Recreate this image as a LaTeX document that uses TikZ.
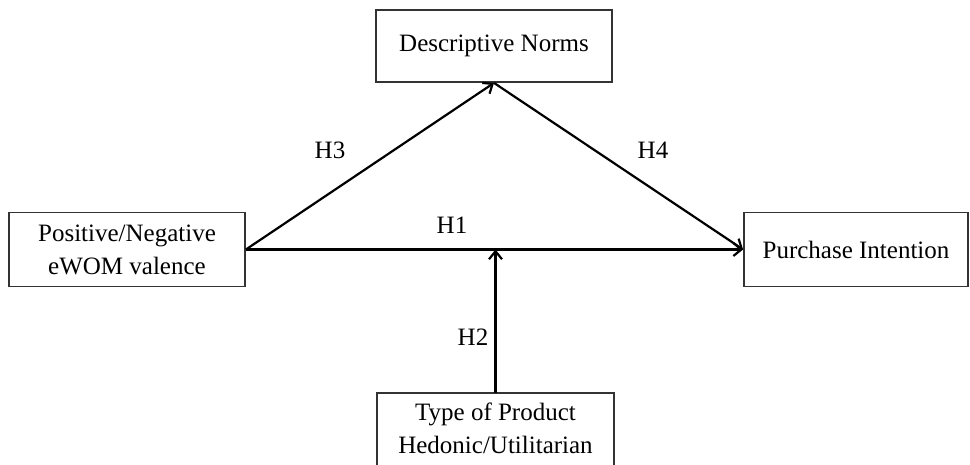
\documentclass[tikz,border=0pt]{standalone}
\usepackage{fontspec}
\setmainfont{Liberation Serif}
\usetikzlibrary{arrows.meta}
\begin{document}
\begin{tikzpicture}[x=1pt,y=-1pt,
  box/.style={draw=black!80, line width=1.8pt, inner sep=0pt, align=center, font=\fontsize{25}{33}\selectfont},
  openbox/.style={box, draw=none},
  boxline/.style={draw=black!80, line width=1.8pt},
  link/.style={line width=2.2pt, -{Straight Barb[length=8pt,width=13pt,line width=2.2pt]}},
  lab/.style={inner sep=0pt, font=\fontsize{25}{30}\selectfont}]
\useasboundingbox (0,0) rectangle (970,465);
\node[box, minimum width=236pt, minimum height=72pt] (dn) at (494,46) {Descriptive Norms};
\node[box, minimum width=236pt, minimum height=74pt] (pos) at (127,249.5) {Positive/Negative\\eWOM valence};
\node[box, minimum width=224pt, minimum height=74pt] (pur) at (856,249.5) {Purchase Intention};
\node[openbox, minimum width=235pt, minimum height=68pt] (type) at (495.5,428) {Type of Product\\Hedonic/Utilitarian};
\draw[boxline] ([yshift=-30pt]type.south west) -- (type.north west) -- (type.north east) -- ([yshift=-30pt]type.south east);
\draw[link] (pos.east) -- (dn.south);
\draw[link] (dn.south) -- (pur.west);
\draw[link] (pos.east) -- (pur.west);
\draw[link] (type.north) -- (type.north |- pos.east);
\node[lab] (h3) at (330,150) {H3};
\node[lab] (h4) at (653,150) {H4};
\node[lab] (h1) at (452,225) {H1};
\node[lab] (h2) at (473,337) {H2};
\end{tikzpicture}
\end{document}
